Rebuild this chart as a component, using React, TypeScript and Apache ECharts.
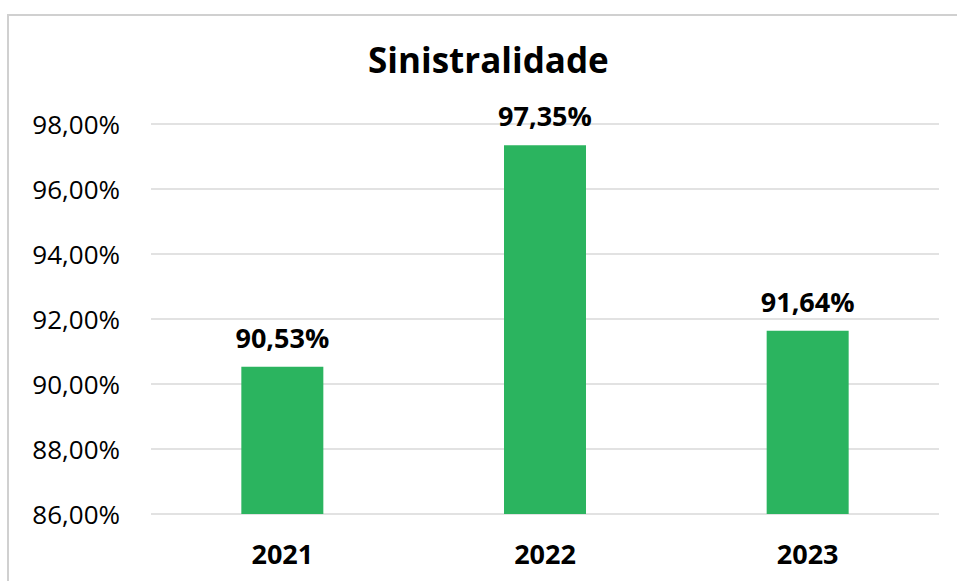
import React, { useEffect, useRef } from "react";
import * as echarts from "echarts";

const categories = ["2021", "2022", "2023"];
const values = [90.53, 97.35, 91.64];
const yTicks = { min: 86, max: 98, interval: 2 };
const titleText = "Sinistralidade";

const fmt = (v: number) => v.toFixed(2).replace(".", ",") + "%";

export default function App() {
  const ref = useRef<HTMLDivElement>(null);
  useEffect(() => {
    if (!ref.current) return;
    const chart = echarts.init(ref.current, undefined, { renderer: "svg" });
    const font = "'Open Sans', 'Noto Sans', sans-serif";
    chart.setOption({
      animation: false,
      backgroundColor: "#ffffff",
      title: {
        text: titleText,
        left: 363,
        top: 37,
        textStyle: { fontFamily: font, fontSize: 35, fontWeight: "bold", color: "#000" },
      },
      graphic: [
        {
          type: "polyline",
          shape: { points: [[8, 581], [8, 15], [957, 15]] },
          style: { stroke: "#d0d0d0", lineWidth: 2, fill: "none" },
          silent: true,
        },
      ],
      grid: { left: 151, right: 18, top: 124, bottom: 67 },
      xAxis: {
        type: "category",
        data: categories,
        axisLine: { show: false },
        axisTick: { show: false },
        axisLabel: {
          fontFamily: font,
          fontSize: 27,
          fontWeight: "bold",
          color: "#000",
          margin: 26,
        },
      },
      yAxis: {
        type: "value",
        min: yTicks.min,
        max: yTicks.max,
        interval: yTicks.interval,
        axisLine: { show: false },
        axisTick: { show: false },
        splitLine: { lineStyle: { color: "#d9d9d9", width: 1.5 } },
        axisLabel: {
          fontFamily: font,
          fontSize: 26,
          color: "#000",
          margin: 31,
          formatter: (v: number) => fmt(v),
        },
      },
      series: [
        {
          type: "bar",
          data: values,
          barWidth: 82,
          itemStyle: { color: "#2bb45f" },
          label: {
            show: true,
            position: "top",
            distance: 16,
            fontFamily: font,
            fontSize: 27,
            fontWeight: "bold",
            color: "#000",
            formatter: (p: any) => fmt(p.value),
          },
        },
      ],
    });
    return () => chart.dispose();
  }, []);
  return (
    <div
      ref={ref}
      style={{ position: "fixed", left: 0, top: 0, width: 957, height: 581 }}
    />
  );
}
